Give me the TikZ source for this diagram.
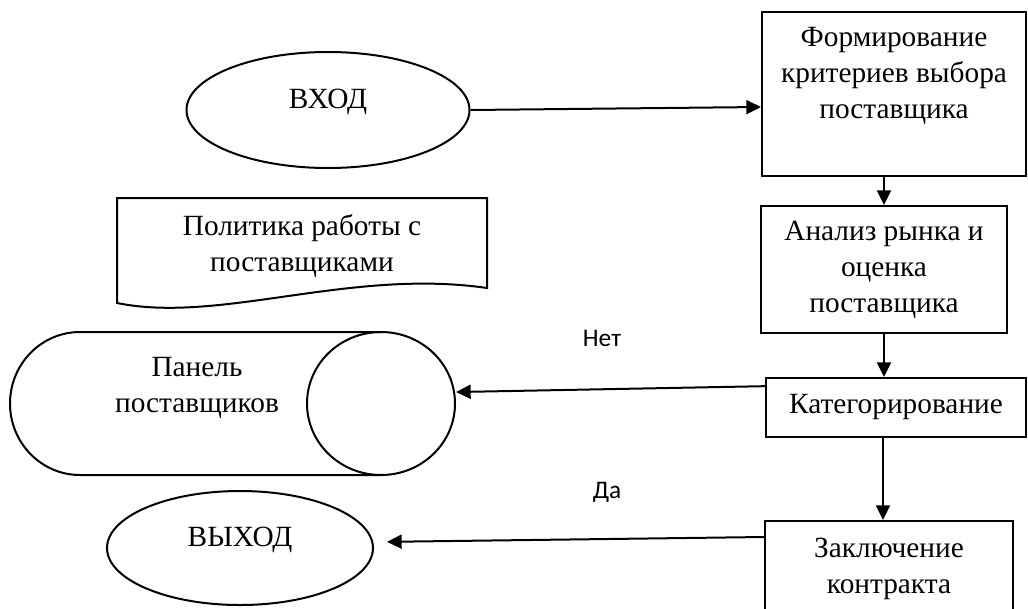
\documentclass[tikz,border=0pt]{standalone}
\usepackage{fontspec}
\setmainfont{Liberation Serif}
\newfontfamily\labelfont{Carlito}
\usetikzlibrary{arrows.meta,shapes.geometric}

\begin{document}
\begin{tikzpicture}[x=0.75pt, y=-0.75pt, line width=1.5pt,
    font=\fontsize{22}{27}\selectfont,
    box/.style={draw, rectangle, inner sep=0pt, align=center},
    term/.style={draw, ellipse, inner sep=0pt, text depth=16.5pt},
    flow/.style={-{Triangle[length=11pt,width=10.5pt]}},
    answer/.style={font=\labelfont\fontsize{19}{23}\selectfont}]
    \useasboundingbox (0,0) rectangle (1028,608);

    \node [term, minimum width=212.25pt, minimum height=87pt] (entry) at (328,110) {ВХОД};
    \node [term, minimum width=199.5pt, minimum height=85.5pt] (exit) at (240,548) {ВЫХОД};

    \node [box, minimum width=198pt, minimum height=123pt] (crit) at (894,94) {};
    \node [align=center] (crittext) at (894,76) {Формирование\\критериев выбора\\поставщика};
    \node [box, minimum width=184.5pt, minimum height=95.25pt] (analysis) at (884,269.5) {Анализ рынка и\\оценка\\поставщика};
    \node [box, minimum width=195pt, minimum height=44.25pt] (cat) at (896,407.5) {Категорирование};
    \node [box, minimum width=186pt, minimum height=72pt] (contract) at (889,569) {Заключение\\контракта};

    \draw (117,198) -- (487,198) -- (487,288) .. controls (350,268) and (220,324) .. (117,303) -- cycle;
    \node [align=center] (policy) at (302,246) {Политика работы с\\поставщиками};

    \draw (381,332) -- (80,332) arc [start angle=270, end angle=90, x radius=70, y radius=71.5] -- (381,475);
    \node [draw, ellipse, inner sep=0pt, minimum width=111pt, minimum height=107.25pt] (panel) at (381,403.5) {};
    \node [align=center] (paneltext) at (197,388) {Панель\\поставщиков};

    \node [answer] (no) at (602,338) {Нет};
    \node [answer] (yes) at (607,492) {Да};

    \draw[flow] (entry.east) -- ([yshift=-9.75pt]crit.west);
    \draw[flow] (analysis.north |- crit.south) -- (analysis.north);
    \draw[flow] (analysis.south) -- (analysis.south |- cat.north);
    \draw[flow] ([yshift=16pt]cat.west) -- ([yshift=8.6pt]panel.east);
    \draw[flow] ([xshift=-9.75pt]cat.south) -- ([xshift=-9.75pt]cat.south |- contract.north);
    \draw[flow, shorten >=9.75pt] ([yshift=24pt]contract.west) -- ([yshift=4.5pt]exit.east);
\end{tikzpicture}
\end{document}
